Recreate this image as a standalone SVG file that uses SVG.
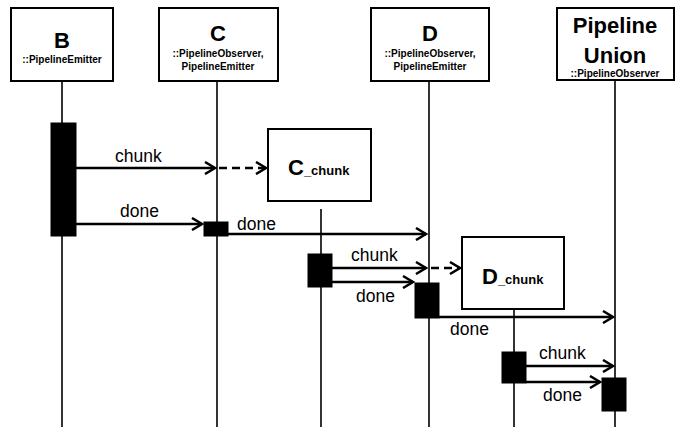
<svg xmlns="http://www.w3.org/2000/svg" width="685" height="427" viewBox="0 0 685 427">
<style>
.box{fill:#fff;stroke:#000;stroke-width:2}
.life{stroke:#000;stroke-width:1.6;fill:none}
.act{fill:#000;stroke:#000;stroke-width:1}
.msg{stroke:#000;stroke-width:2.5;fill:none;marker-end:url(#ah)}
.dash{stroke:#000;stroke-width:2.5;fill:none;stroke-dasharray:8 5;marker-end:url(#ah)}
.t{font-family:"Liberation Sans",Arial,sans-serif;fill:#000}
.big{font-size:22px;font-weight:bold}
.sm{font-size:10px;font-weight:bold}
.lbl{font-size:17.5px}
</style>
<defs>
<marker id="ah" markerWidth="14" markerHeight="14" refX="11" refY="7" orient="auto" markerUnits="userSpaceOnUse">
<path d="M1,1 L11,7 L1,13" fill="none" stroke="#000" stroke-width="2.5"/>
</marker>
</defs>
<rect width="685" height="427" fill="#fff"/>
<g id="lifelines">
<line class="life" x1="62" y1="81" x2="62" y2="427"/>
<line class="life" x1="217" y1="81" x2="217" y2="427"/>
<line class="life" x1="429" y1="81" x2="429" y2="427"/>
<line class="life" x1="615" y1="80" x2="615" y2="427"/>
<line class="life" x1="321" y1="209" x2="321" y2="427"/>
<line class="life" x1="514" y1="309" x2="514" y2="427"/>
</g>
<g id="node-B">
<rect class="box" x="11" y="8" width="102" height="73"/>
<text class="t big" x="62" y="48" text-anchor="middle">B</text>
<text class="t sm" x="62" y="63" text-anchor="middle">::PipelineEmitter</text>
</g>
<g id="node-C">
<rect class="box" x="159" y="8" width="119" height="73"/>
<text class="t big" x="218" y="41" text-anchor="middle">C</text>
<text class="t sm" x="218" y="57" text-anchor="middle">::PipelineObserver,</text>
<text class="t sm" x="218" y="70" text-anchor="middle">PipelineEmitter</text>
</g>
<g id="node-D">
<rect class="box" x="371" y="8" width="118" height="73"/>
<text class="t big" x="430" y="41" text-anchor="middle">D</text>
<text class="t sm" x="430" y="57" text-anchor="middle">::PipelineObserver,</text>
<text class="t sm" x="430" y="70" text-anchor="middle">PipelineEmitter</text>
</g>
<g id="node-PU">
<rect class="box" x="557" y="8" width="117" height="72"/>
<text class="t big" x="615" y="33" text-anchor="middle">Pipeline</text>
<text class="t big" x="615" y="63" text-anchor="middle">Union</text>
<text class="t sm" x="615" y="77" text-anchor="middle">::PipelineObserver</text>
</g>
<g id="node-Cchunk">
<rect class="box" x="268" y="129" width="103" height="72"/>
<text class="t" x="288" y="175" font-weight="bold"><tspan font-size="22">C</tspan><tspan font-size="13">_chunk</tspan></text>
</g>
<g id="node-Dchunk">
<rect class="box" x="462" y="237" width="102" height="72"/>
<text class="t" x="482" y="284" font-weight="bold"><tspan font-size="22">D</tspan><tspan font-size="13">_chunk</tspan></text>
</g>
<g id="activations">
<rect class="act" x="51" y="123" width="25" height="113"/>
<rect class="act" x="204" y="222" width="24" height="14"/>
<rect class="act" x="308" y="254" width="24" height="33"/>
<rect class="act" x="415" y="283" width="24" height="35"/>
<rect class="act" x="502" y="352" width="24" height="31"/>
<rect class="act" x="602" y="378" width="24" height="33"/>
</g>
<g id="connectors">
<line class="msg" x1="76" y1="168" x2="215" y2="168"/>
<line class="dash" x1="219" y1="168" x2="266" y2="168"/>
<line class="msg" x1="76" y1="224" x2="202" y2="224"/>
<line class="msg" x1="228" y1="234" x2="426" y2="234"/>
<line class="msg" x1="332" y1="268" x2="426" y2="268"/>
<line class="dash" x1="431" y1="268" x2="460" y2="268"/>
<line class="msg" x1="332" y1="282" x2="413" y2="282"/>
<line class="msg" x1="439" y1="317" x2="613" y2="317"/>
<line class="msg" x1="526" y1="366" x2="613" y2="366"/>
<line class="msg" x1="526" y1="382" x2="600" y2="382"/>
</g>
<g id="labels">
<text class="t lbl" x="115" y="162">chunk</text>
<text class="t lbl" x="120" y="217">done</text>
<text class="t lbl" x="237" y="230">done</text>
<text class="t lbl" x="351" y="261">chunk</text>
<text class="t lbl" x="356" y="302">done</text>
<text class="t lbl" x="450" y="335">done</text>
<text class="t lbl" x="539" y="359">chunk</text>
<text class="t lbl" x="543" y="401">done</text>
</g>
</svg>
